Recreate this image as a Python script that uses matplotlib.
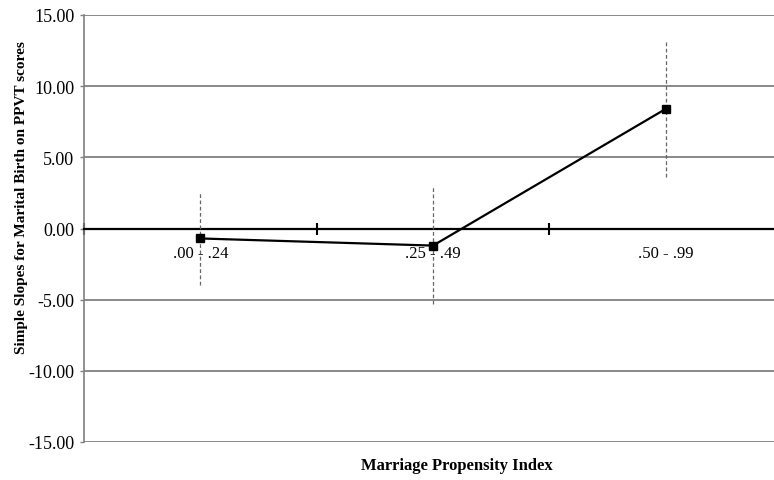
import matplotlib.pyplot as plt
import numpy as np

# simple slopes by marriage propensity group, with CI half-widths
groups = ['.00 - .24', '.25 - .49', '.50 - .99']
slopes = [-0.7, -1.2, 8.4]
ci_half = [3.25, 4.1, 4.8]
yticks = [-15, -10, -5, 0, 5, 10, 15]

plt.rcParams['font.family'] = ['Liberation Serif', 'DejaVu Serif']

fig = plt.figure(figsize=(7.74, 4.81), dpi=100)
ax = fig.add_axes([84/774, 1-443/481, 698/774, 427/481])

xpos = np.arange(len(groups)) + 0.5

ax.set_ylim(-15, 15)
ax.set_xlim(0, 3)
ax.set_yticks(yticks)
ax.set_yticklabels(['%.2f' % v for v in yticks], fontsize=13)
ax.yaxis.grid(True, color='#808080', lw=1.3)
ax.set_axisbelow(True)

# zero line doubles as the category axis
ax.spines['bottom'].set_position(('data', 0))
ax.spines['bottom'].set_color('black')
ax.spines['bottom'].set_linewidth(1.6)
ax.spines['top'].set_visible(False)
ax.spines['right'].set_visible(False)
ax.spines['left'].set_color('#808080')
ax.spines['left'].set_linewidth(1.2)
ax.set_xticks([0, 1, 2, 3])
ax.set_xticklabels([])
ax.tick_params(axis='x', direction='inout', length=9, width=1.5, color='black')
ax.tick_params(axis='y', length=3, width=1, color='#808080', pad=4)

# dashed confidence bars
for x, s, h in zip(xpos, slopes, ci_half):
    ax.plot([x, x], [s - h, s + h], color='#666666', lw=0.9, ls=(0, (3, 2)), zorder=3)

ax.plot(xpos, slopes, color='black', lw=1.6, marker='s', ms=5.5, zorder=4)

for x, g in zip(xpos, groups):
    ax.text(x, -1.7, g, ha='center', va='center', fontsize=12)

ax.set_ylabel('Simple Slopes for Marital Birth on PPVT scores', fontsize=11,
              fontweight='bold')
ax.yaxis.set_label_coords(-0.080, 0.574)
fig.text(457/774, 1-466/481, 'Marriage Propensity Index', ha='center', va='center',
         fontsize=12, fontweight='bold')

fig.savefig('out.png', dpi=100)
